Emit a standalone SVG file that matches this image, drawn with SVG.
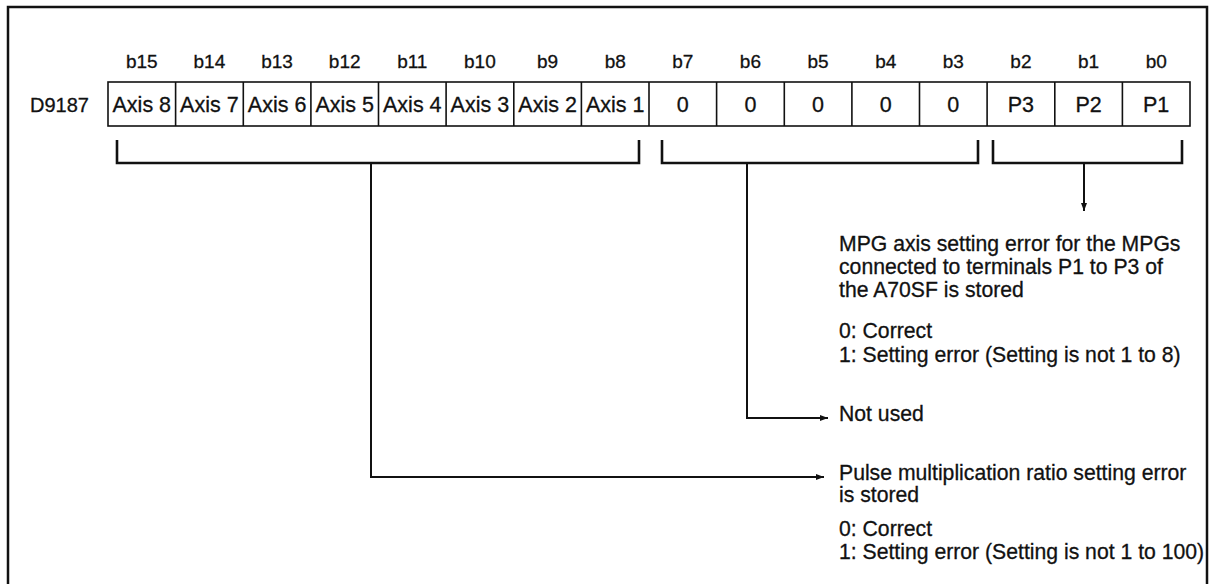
<svg xmlns="http://www.w3.org/2000/svg" width="1212" height="584" viewBox="0 0 1212 584">
<style>
text{font-family:"Liberation Sans",Arial,Helvetica,sans-serif;fill:#111;stroke:#111;stroke-width:0.3}
.bit{font-size:19px;text-anchor:middle}
.cell{font-size:21.5px;text-anchor:middle}
.desc{font-size:21.2px}
.box{fill:#fff;stroke:#111;stroke-width:1.6}
.br{fill:none;stroke:#111;stroke-width:2.6}
.ln{fill:none;stroke:#111;stroke-width:2}
</style>
<defs>
<marker id="ah" markerUnits="userSpaceOnUse" markerWidth="9" markerHeight="7" refX="8" refY="3" orient="auto">
<path d="M0,0 L8,3 L0,6 z" fill="#111"/>
</marker>
</defs>
<rect width="1212" height="584" fill="#fff"/>
<path d="M8,584 V7 H1207 V584" fill="none" stroke="#111" stroke-width="2.5"/>
<g id="bits">
<text class="bit" x="141.8" y="68">b15</text>
<text class="bit" x="209.4" y="68">b14</text>
<text class="bit" x="277.1" y="68">b13</text>
<text class="bit" x="344.7" y="68">b12</text>
<text class="bit" x="412.3" y="68">b11</text>
<text class="bit" x="479.9" y="68">b10</text>
<text class="bit" x="547.6" y="68">b9</text>
<text class="bit" x="615.2" y="68">b8</text>
<text class="bit" x="682.8" y="68">b7</text>
<text class="bit" x="750.4" y="68">b6</text>
<text class="bit" x="818.1" y="68">b5</text>
<text class="bit" x="885.7" y="68">b4</text>
<text class="bit" x="953.3" y="68">b3</text>
<text class="bit" x="1020.9" y="68">b2</text>
<text class="bit" x="1088.6" y="68">b1</text>
<text class="bit" x="1156.2" y="68">b0</text>
</g>
<g id="register">
<text x="30" y="112" style="font-size:20px">D9187</text>
<rect class="box" x="108" y="82" width="1082" height="44"/>
<path d="M175.6,82V126M243.3,82V126M310.9,82V126M378.5,82V126M446.1,82V126M513.8,82V126M581.4,82V126M649,82V126M716.6,82V126M784.3,82V126M851.9,82V126M919.5,82V126M987.1,82V126M1054.8,82V126M1122.4,82V126" stroke="#111" stroke-width="1.6"/>
<text class="cell" x="141.8" y="112">Axis 8</text>
<text class="cell" x="209.4" y="112">Axis 7</text>
<text class="cell" x="277.1" y="112">Axis 6</text>
<text class="cell" x="344.7" y="112">Axis 5</text>
<text class="cell" x="412.3" y="112">Axis 4</text>
<text class="cell" x="479.9" y="112">Axis 3</text>
<text class="cell" x="547.6" y="112">Axis 2</text>
<text class="cell" x="615.2" y="112">Axis 1</text>
<text class="cell" x="682.8" y="112">0</text>
<text class="cell" x="750.4" y="112">0</text>
<text class="cell" x="818.1" y="112">0</text>
<text class="cell" x="885.7" y="112">0</text>
<text class="cell" x="953.3" y="112">0</text>
<text class="cell" x="1020.9" y="112">P3</text>
<text class="cell" x="1088.6" y="112">P2</text>
<text class="cell" x="1156.2" y="112">P1</text>
</g>
<g id="connectors">
<path class="br" d="M117,140 V163 H639 V140"/>
<path class="br" d="M662,140 V163 H978 V140"/>
<path class="br" d="M993,140 V163 H1182 V140"/>
<path class="ln" d="M1084,163 V211" marker-end="url(#ah)"/>
<path class="ln" d="M747,163 V418 H828" marker-end="url(#ah)"/>
<path class="ln" d="M371,163 V477 H824" marker-end="url(#ah)"/>
</g>
<g id="mpg-desc">
<text class="desc" x="839" y="251">MPG axis setting error for the MPGs</text>
<text class="desc" x="839" y="274">connected to terminals P1 to P3 of</text>
<text class="desc" x="839" y="297">the A70SF is stored</text>
<text class="desc" x="839" y="338">0: Correct</text>
<text class="desc" x="839" y="362">1: Setting error (Setting is not 1 to 8)</text>
</g>
<g id="notused-desc">
<text class="desc" x="839" y="421">Not used</text>
</g>
<g id="pulse-desc">
<text class="desc" x="839" y="480">Pulse multiplication ratio setting error</text>
<text class="desc" x="839" y="502">is stored</text>
<text class="desc" x="839" y="536">0: Correct</text>
<text class="desc" x="839" y="559">1: Setting error (Setting is not 1 to 100)</text>
</g>
</svg>
